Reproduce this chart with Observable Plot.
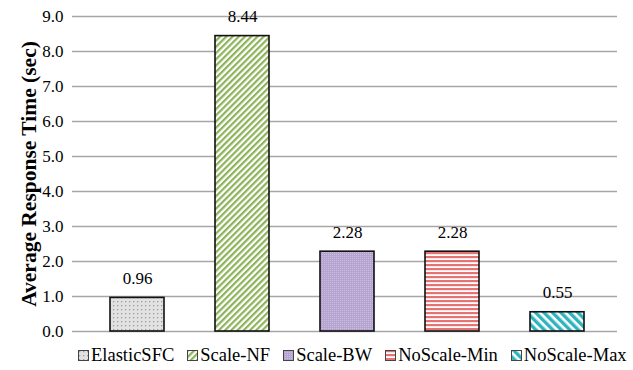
<!DOCTYPE html>
<html>
<head>
<meta charset="utf-8">
<script src="https://cdn.jsdelivr.net/npm/d3@7"></script>
<script src="https://cdn.jsdelivr.net/npm/@observablehq/plot@0.6"></script>
<style>
  body { margin: 0; background: #fff; font-family: "Liberation Serif", "Times New Roman", serif; }
  #wrap { width: 633px; }
  #legend { display: flex; justify-content: flex-start; align-items: center; gap: 13px; height: 30px; font-size: 18.5px; color: #000; padding-left: 78px; white-space: nowrap; }
  #legend .item { display: flex; align-items: center; flex-shrink: 0; }
  #legend svg { margin-right: 2px; }
  #chart svg text { font-family: "Liberation Serif", "Times New Roman", serif; }
</style>
</head>
<body>
<svg width="0" height="0" style="position:absolute">
  <defs>
    <pattern id="pat-dots" width="4" height="4" patternUnits="userSpaceOnUse">
      <rect width="4" height="4" fill="#e2e2e2"/>
      <rect x="1" y="1" width="1.3" height="1.3" fill="#9c9c9c"/>
    </pattern>
    <pattern id="pat-green" width="4.4" height="10" patternUnits="userSpaceOnUse" patternTransform="rotate(45)">
      <rect width="4.4" height="10" fill="#fff"/>
      <rect width="2.2" height="10" fill="#8db35a"/>
    </pattern>
    <pattern id="pat-purple" width="2" height="2" patternUnits="userSpaceOnUse">
      <rect width="2" height="2" fill="#b5a4cf"/>
      <rect width="1" height="1" fill="#cbbfe0"/>
    </pattern>
    <pattern id="pat-red" width="10" height="4" patternUnits="userSpaceOnUse">
      <rect width="10" height="4" fill="#fff"/>
      <rect width="10" height="2.2" fill="#e57373"/>
    </pattern>
    <pattern id="pat-teal" width="6" height="10" patternUnits="userSpaceOnUse" patternTransform="rotate(-45)">
      <rect width="6" height="10" fill="#fff"/>
      <rect width="3.4" height="10" fill="#2fb3bf"/>
    </pattern>
  </defs>
</svg>
<div id="wrap">
  <div id="chart"></div>
  <div id="legend"></div>
</div>
<script>
// Response time per scaling strategy
const categories = ["ElasticSFC", "Scale-NF", "Scale-BW", "NoScale-Min", "NoScale-Max"];
const values = [0.96, 8.44, 2.28, 2.28, 0.55];
const fills = ["url(#pat-dots)", "url(#pat-green)", "url(#pat-purple)", "url(#pat-red)", "url(#pat-teal)"];
const yTicks = [0, 1, 2, 3, 4, 5, 6, 7, 8, 9];

const data = categories.map((c, i) => ({category: c, value: values[i], fill: fills[i]}));
const serif = '"Liberation Serif", "Times New Roman", serif';

const chart = Plot.plot({
  width: 633,
  height: 340,
  marginTop: 16,
  marginBottom: 9,
  marginLeft: 79,
  marginRight: 16,
  style: {fontFamily: serif, fontSize: "17px", color: "#000", background: "#fff"},
  x: {domain: categories, paddingInner: 0.488, paddingOuter: 0.284, insetRight: 2, axis: null},
  y: {domain: [0, 9], ticks: yTicks, tickFormat: d3.format(".1f"), label: null},
  marks: [
    Plot.ruleY(yTicks, {stroke: "#a6a6a6", strokeWidth: 1.5, strokeOpacity: 1, insetLeft: -7}),
    Plot.axisY({ticks: yTicks, tickFormat: d3.format(".1f"), tickSize: 0, tickPadding: 16, fontSize: 17, fontFamily: serif, label: null}),
    Plot.ruleX([0], {x: () => null, stroke: "#a6a6a6", strokeWidth: 1.5}),
    Plot.barY(data, {x: "category", y: "value", fill: "fill", stroke: "#111", strokeWidth: 1.6}),
    Plot.text(data, {x: "category", y: "value", text: d => d3.format(".2f")(d.value), lineAnchor: "bottom", dy: -14, fontSize: 17, fontFamily: serif}),
    Plot.text(["Average Response Time (sec)"], {
      frameAnchor: "left", textAnchor: "middle", dx: -50, rotate: -90, fontWeight: "bold", fontSize: 21.5, fontFamily: serif
    })
  ]
});
document.getElementById("chart").appendChild(chart);

// Legend with patterned swatches
const legend = document.getElementById("legend");
categories.forEach((c, i) => {
  const item = document.createElement("div");
  item.className = "item";
  item.innerHTML = `<svg width="11" height="11"><rect x="0.5" y="0.5" width="10" height="10" fill="${fills[i]}" stroke="#444" stroke-width="1"/></svg><span>${c}</span>`;
  legend.appendChild(item);
});
</script>
</body>
</html>
